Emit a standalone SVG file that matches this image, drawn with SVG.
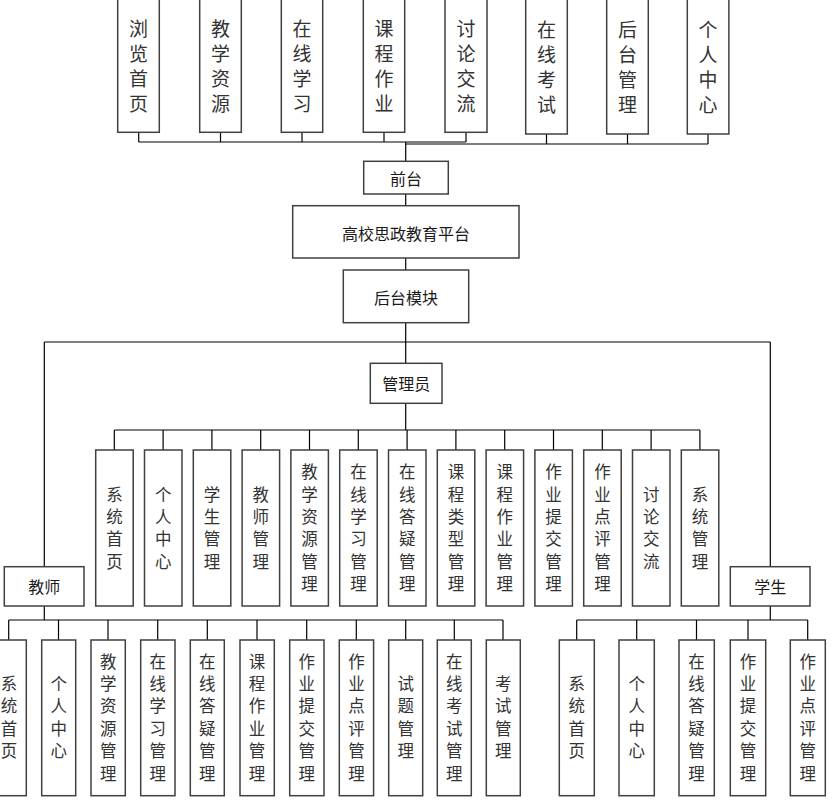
<svg xmlns="http://www.w3.org/2000/svg" width="832" height="804" viewBox="0 0 832 804">
<style>
.b{fill:#fff;stroke:#404040;stroke-width:1.5}
.t{font-family:"Noto Sans CJK SC","Noto Sans",sans-serif;fill:#1a1a1a;text-anchor:middle;dominant-baseline:central}
.v1{font-size:19px;fill:#333}
.v2{font-size:16.5px;fill:#333}
.h{font-size:16px}
.c line,.c polyline{stroke:#000;stroke-width:1.2;fill:none}
</style>
<rect width="832" height="804" fill="#fff"/>
<g class="c" id="connectors">
<line x1="138.7" y1="142" x2="466" y2="142"/>
<line x1="405.7" y1="144" x2="708" y2="144" stroke-width="1.6"/>
<line x1="138.7" y1="132" x2="138.7" y2="142"/>
<line x1="220.5" y1="132" x2="220.5" y2="142"/>
<line x1="302" y1="132" x2="302" y2="142"/>
<line x1="384" y1="132" x2="384" y2="142"/>
<line x1="466" y1="132" x2="466" y2="142"/>
<line x1="546.5" y1="134" x2="546.5" y2="144"/>
<line x1="627.5" y1="134" x2="627.5" y2="144"/>
<line x1="708" y1="134" x2="708" y2="144"/>
<line x1="405.7" y1="142" x2="405.7" y2="162" stroke-width="2"/>
<line x1="405.7" y1="194" x2="405.7" y2="207"/>
<line x1="405.7" y1="258" x2="405.7" y2="270"/>
<line x1="405.7" y1="322.7" x2="405.7" y2="363.3" stroke-width="1.6"/>
<line x1="44.3" y1="342" x2="770.3" y2="342"/>
<line x1="44.3" y1="342" x2="44.3" y2="567"/>
<line x1="770.3" y1="342" x2="770.3" y2="567"/>
<line x1="405.7" y1="403.3" x2="405.7" y2="430"/>
<line x1="114.3" y1="430" x2="700" y2="430"/>
<line x1="114.3" y1="430" x2="114.3" y2="450"/>
<line x1="163.1" y1="430" x2="163.1" y2="450"/>
<line x1="211.9" y1="430" x2="211.9" y2="450"/>
<line x1="260.7" y1="430" x2="260.7" y2="450"/>
<line x1="309.5" y1="430" x2="309.5" y2="450"/>
<line x1="358.3" y1="430" x2="358.3" y2="450"/>
<line x1="407.1" y1="430" x2="407.1" y2="450"/>
<line x1="455.9" y1="430" x2="455.9" y2="450"/>
<line x1="504.7" y1="430" x2="504.7" y2="450"/>
<line x1="553.5" y1="430" x2="553.5" y2="450"/>
<line x1="602.3" y1="430" x2="602.3" y2="450"/>
<line x1="651.1" y1="430" x2="651.1" y2="450"/>
<line x1="699.9" y1="430" x2="699.9" y2="450"/>
<line x1="44.3" y1="606" x2="44.3" y2="620"/>
<line x1="8.7" y1="620" x2="503" y2="620"/>
<line x1="8.7" y1="620" x2="8.7" y2="640"/>
<line x1="58.5" y1="620" x2="58.5" y2="640"/>
<line x1="108" y1="620" x2="108" y2="640"/>
<line x1="157.7" y1="620" x2="157.7" y2="640"/>
<line x1="207.3" y1="620" x2="207.3" y2="640"/>
<line x1="257" y1="620" x2="257" y2="640"/>
<line x1="306.7" y1="620" x2="306.7" y2="640"/>
<line x1="356.3" y1="620" x2="356.3" y2="640"/>
<line x1="405.7" y1="620" x2="405.7" y2="640"/>
<line x1="454.3" y1="620" x2="454.3" y2="640"/>
<line x1="503" y1="620" x2="503" y2="640"/>
<line x1="770.3" y1="606" x2="770.3" y2="620"/>
<line x1="576.7" y1="620" x2="807.7" y2="620"/>
<line x1="576.7" y1="620" x2="576.7" y2="640"/>
<line x1="636.7" y1="620" x2="636.7" y2="640"/>
<line x1="696.5" y1="620" x2="696.5" y2="640"/>
<line x1="748" y1="620" x2="748" y2="640"/>
<line x1="807.7" y1="620" x2="807.7" y2="640"/>
</g>

<!-- top row -->
<g id="f1"><rect class="b" x="117.7" y="-2" width="41.6" height="134.3"/><text class="t v1"><tspan x="138.5" y="27">浏</tspan><tspan x="138.5" y="52">览</tspan><tspan x="138.5" y="77">首</tspan><tspan x="138.5" y="102">页</tspan></text></g>
<g id="f2"><rect class="b" x="199.7" y="-2" width="41.6" height="134.3"/><text class="t v1"><tspan x="220.5" y="27">教</tspan><tspan x="220.5" y="52">学</tspan><tspan x="220.5" y="77">资</tspan><tspan x="220.5" y="102">源</tspan></text></g>
<g id="f3"><rect class="b" x="281.3" y="-2" width="41.4" height="134.3"/><text class="t v1"><tspan x="302" y="27">在</tspan><tspan x="302" y="52">线</tspan><tspan x="302" y="77">学</tspan><tspan x="302" y="102">习</tspan></text></g>
<g id="f4"><rect class="b" x="363.3" y="-2" width="41.4" height="134.3"/><text class="t v1"><tspan x="384" y="27">课</tspan><tspan x="384" y="52">程</tspan><tspan x="384" y="77">作</tspan><tspan x="384" y="102">业</tspan></text></g>
<g id="f5"><rect class="b" x="445" y="-2" width="42" height="134.3"/><text class="t v1"><tspan x="466" y="27">讨</tspan><tspan x="466" y="52">论</tspan><tspan x="466" y="77">交</tspan><tspan x="466" y="102">流</tspan></text></g>
<g id="f6"><rect class="b" x="525.7" y="-2" width="41.6" height="136"/><text class="t v1"><tspan x="546.5" y="28">在</tspan><tspan x="546.5" y="53">线</tspan><tspan x="546.5" y="78">考</tspan><tspan x="546.5" y="103">试</tspan></text></g>
<g id="f7"><rect class="b" x="606.7" y="-2" width="41.6" height="136"/><text class="t v1"><tspan x="627.5" y="28">后</tspan><tspan x="627.5" y="53">台</tspan><tspan x="627.5" y="78">管</tspan><tspan x="627.5" y="103">理</tspan></text></g>
<g id="f8"><rect class="b" x="687.3" y="-2" width="41.6" height="136"/><text class="t v1"><tspan x="708.1" y="28">个</tspan><tspan x="708.1" y="53">人</tspan><tspan x="708.1" y="78">中</tspan><tspan x="708.1" y="103">心</tspan></text></g>

<!-- center chain -->
<g id="qiantai"><rect class="b" x="363.7" y="161.3" width="84.6" height="32.7"/><text class="t h" x="406" y="177.7">前台</text></g>
<g id="platform"><rect class="b" x="292.7" y="205.7" width="226.3" height="52.3"/><text class="t h" x="406" y="233">高校思政教育平台</text></g>
<g id="houtai"><rect class="b" x="343.3" y="270" width="125.4" height="52.7"/><text class="t h" x="406" y="297">后台模块</text></g>
<g id="admin"><rect class="b" x="370.3" y="363.3" width="71.7" height="40"/><text class="t h" x="406.2" y="383.3">管理员</text></g>
<g id="teacher"><rect class="b" x="4.3" y="566.7" width="79.7" height="39.3"/><text class="t h" x="44.2" y="586.3">教师</text></g>
<g id="student"><rect class="b" x="730.3" y="566.7" width="79.7" height="39.3"/><text class="t h" x="770.2" y="586.3">学生</text></g>

<!-- admin row -->
<g id="a1"><rect class="b" x="95.7" y="450" width="37.5" height="156"/><text class="t v2"><tspan x="114.4" y="493.5">系</tspan><tspan x="114.4" y="515.8">统</tspan><tspan x="114.4" y="538.2">首</tspan><tspan x="114.4" y="560.5">页</tspan></text></g>
<g id="a2"><rect class="b" x="144.5" y="450" width="37.5" height="156"/><text class="t v2"><tspan x="163.2" y="493.5">个</tspan><tspan x="163.2" y="515.8">人</tspan><tspan x="163.2" y="538.2">中</tspan><tspan x="163.2" y="560.5">心</tspan></text></g>
<g id="a3"><rect class="b" x="193.3" y="450" width="37.5" height="156"/><text class="t v2"><tspan x="212" y="493.5">学</tspan><tspan x="212" y="515.8">生</tspan><tspan x="212" y="538.2">管</tspan><tspan x="212" y="560.5">理</tspan></text></g>
<g id="a4"><rect class="b" x="242.1" y="450" width="37.5" height="156"/><text class="t v2"><tspan x="260.8" y="493.5">教</tspan><tspan x="260.8" y="515.8">师</tspan><tspan x="260.8" y="538.2">管</tspan><tspan x="260.8" y="560.5">理</tspan></text></g>
<g id="a5"><rect class="b" x="290.9" y="450" width="37.5" height="156"/><text class="t v2"><tspan x="309.6" y="471.3">教</tspan><tspan x="309.6" y="493.5">学</tspan><tspan x="309.6" y="515.8">资</tspan><tspan x="309.6" y="538.2">源</tspan><tspan x="309.6" y="560.5">管</tspan><tspan x="309.6" y="582.8">理</tspan></text></g>
<g id="a6"><rect class="b" x="339.7" y="450" width="37.5" height="156"/><text class="t v2"><tspan x="358.4" y="471.3">在</tspan><tspan x="358.4" y="493.5">线</tspan><tspan x="358.4" y="515.8">学</tspan><tspan x="358.4" y="538.2">习</tspan><tspan x="358.4" y="560.5">管</tspan><tspan x="358.4" y="582.8">理</tspan></text></g>
<g id="a7"><rect class="b" x="388.5" y="450" width="37.5" height="156"/><text class="t v2"><tspan x="407.2" y="471.3">在</tspan><tspan x="407.2" y="493.5">线</tspan><tspan x="407.2" y="515.8">答</tspan><tspan x="407.2" y="538.2">疑</tspan><tspan x="407.2" y="560.5">管</tspan><tspan x="407.2" y="582.8">理</tspan></text></g>
<g id="a8"><rect class="b" x="437.3" y="450" width="37.5" height="156"/><text class="t v2"><tspan x="456" y="471.3">课</tspan><tspan x="456" y="493.5">程</tspan><tspan x="456" y="515.8">类</tspan><tspan x="456" y="538.2">型</tspan><tspan x="456" y="560.5">管</tspan><tspan x="456" y="582.8">理</tspan></text></g>
<g id="a9"><rect class="b" x="486.1" y="450" width="37.5" height="156"/><text class="t v2"><tspan x="504.8" y="471.3">课</tspan><tspan x="504.8" y="493.5">程</tspan><tspan x="504.8" y="515.8">作</tspan><tspan x="504.8" y="538.2">业</tspan><tspan x="504.8" y="560.5">管</tspan><tspan x="504.8" y="582.8">理</tspan></text></g>
<g id="a10"><rect class="b" x="534.9" y="450" width="37.5" height="156"/><text class="t v2"><tspan x="553.6" y="471.3">作</tspan><tspan x="553.6" y="493.5">业</tspan><tspan x="553.6" y="515.8">提</tspan><tspan x="553.6" y="538.2">交</tspan><tspan x="553.6" y="560.5">管</tspan><tspan x="553.6" y="582.8">理</tspan></text></g>
<g id="a11"><rect class="b" x="583.7" y="450" width="37.5" height="156"/><text class="t v2"><tspan x="602.4" y="471.3">作</tspan><tspan x="602.4" y="493.5">业</tspan><tspan x="602.4" y="515.8">点</tspan><tspan x="602.4" y="538.2">评</tspan><tspan x="602.4" y="560.5">管</tspan><tspan x="602.4" y="582.8">理</tspan></text></g>
<g id="a12"><rect class="b" x="632.5" y="450" width="37.5" height="156"/><text class="t v2"><tspan x="651.2" y="493.5">讨</tspan><tspan x="651.2" y="515.8">论</tspan><tspan x="651.2" y="538.2">交</tspan><tspan x="651.2" y="560.5">流</tspan></text></g>
<g id="a13"><rect class="b" x="681.3" y="450" width="37.5" height="156"/><text class="t v2"><tspan x="700" y="493.5">系</tspan><tspan x="700" y="515.8">统</tspan><tspan x="700" y="538.2">管</tspan><tspan x="700" y="560.5">理</tspan></text></g>

<!-- teacher row -->
<g id="t1"><rect class="b" x="-8" y="640" width="34.3" height="155.7"/><text class="t v2"><tspan x="9" y="683">系</tspan><tspan x="9" y="705.3">统</tspan><tspan x="9" y="727.7">首</tspan><tspan x="9" y="750">页</tspan></text></g>
<g id="t2"><rect class="b" x="41.7" y="640" width="34" height="155.7"/><text class="t v2"><tspan x="58.7" y="683">个</tspan><tspan x="58.7" y="705.3">人</tspan><tspan x="58.7" y="727.7">中</tspan><tspan x="58.7" y="750">心</tspan></text></g>
<g id="t3"><rect class="b" x="91" y="640" width="34.3" height="155.7"/><text class="t v2"><tspan x="108.2" y="660.5">教</tspan><tspan x="108.2" y="683">学</tspan><tspan x="108.2" y="705.3">资</tspan><tspan x="108.2" y="727.7">源</tspan><tspan x="108.2" y="750">管</tspan><tspan x="108.2" y="772.5">理</tspan></text></g>
<g id="t4"><rect class="b" x="140.7" y="640" width="34.3" height="155.7"/><text class="t v2"><tspan x="157.8" y="660.5">在</tspan><tspan x="157.8" y="683">线</tspan><tspan x="157.8" y="705.3">学</tspan><tspan x="157.8" y="727.7">习</tspan><tspan x="157.8" y="750">管</tspan><tspan x="157.8" y="772.5">理</tspan></text></g>
<g id="t5"><rect class="b" x="190.3" y="640" width="34" height="155.7"/><text class="t v2"><tspan x="207.3" y="660.5">在</tspan><tspan x="207.3" y="683">线</tspan><tspan x="207.3" y="705.3">答</tspan><tspan x="207.3" y="727.7">疑</tspan><tspan x="207.3" y="750">管</tspan><tspan x="207.3" y="772.5">理</tspan></text></g>
<g id="t6"><rect class="b" x="240" y="640" width="34.3" height="155.7"/><text class="t v2"><tspan x="257.1" y="660.5">课</tspan><tspan x="257.1" y="683">程</tspan><tspan x="257.1" y="705.3">作</tspan><tspan x="257.1" y="727.7">业</tspan><tspan x="257.1" y="750">管</tspan><tspan x="257.1" y="772.5">理</tspan></text></g>
<g id="t7"><rect class="b" x="289.7" y="640" width="34.3" height="155.7"/><text class="t v2"><tspan x="306.8" y="660.5">作</tspan><tspan x="306.8" y="683">业</tspan><tspan x="306.8" y="705.3">提</tspan><tspan x="306.8" y="727.7">交</tspan><tspan x="306.8" y="750">管</tspan><tspan x="306.8" y="772.5">理</tspan></text></g>
<g id="t8"><rect class="b" x="339.3" y="640" width="34.3" height="155.7"/><text class="t v2"><tspan x="356.4" y="660.5">作</tspan><tspan x="356.4" y="683">业</tspan><tspan x="356.4" y="705.3">点</tspan><tspan x="356.4" y="727.7">评</tspan><tspan x="356.4" y="750">管</tspan><tspan x="356.4" y="772.5">理</tspan></text></g>
<g id="t9"><rect class="b" x="388.7" y="640" width="34" height="155.7"/><text class="t v2"><tspan x="405.7" y="683">试</tspan><tspan x="405.7" y="705.3">题</tspan><tspan x="405.7" y="727.7">管</tspan><tspan x="405.7" y="750">理</tspan></text></g>
<g id="t10"><rect class="b" x="437.3" y="640" width="34" height="155.7"/><text class="t v2"><tspan x="454.3" y="660.5">在</tspan><tspan x="454.3" y="683">线</tspan><tspan x="454.3" y="705.3">考</tspan><tspan x="454.3" y="727.7">试</tspan><tspan x="454.3" y="750">管</tspan><tspan x="454.3" y="772.5">理</tspan></text></g>
<g id="t11"><rect class="b" x="486.3" y="640" width="34" height="155.7"/><text class="t v2"><tspan x="503.3" y="683">考</tspan><tspan x="503.3" y="705.3">试</tspan><tspan x="503.3" y="727.7">管</tspan><tspan x="503.3" y="750">理</tspan></text></g>

<!-- student row -->
<g id="s1"><rect class="b" x="559.3" y="640" width="35" height="155.7"/><text class="t v2"><tspan x="576.8" y="683">系</tspan><tspan x="576.8" y="705.3">统</tspan><tspan x="576.8" y="727.7">首</tspan><tspan x="576.8" y="750">页</tspan></text></g>
<g id="s2"><rect class="b" x="619" y="640" width="35.3" height="155.7"/><text class="t v2"><tspan x="636.7" y="683">个</tspan><tspan x="636.7" y="705.3">人</tspan><tspan x="636.7" y="727.7">中</tspan><tspan x="636.7" y="750">心</tspan></text></g>
<g id="s3"><rect class="b" x="679" y="640" width="35.3" height="155.7"/><text class="t v2"><tspan x="696.6" y="660.5">在</tspan><tspan x="696.6" y="683">线</tspan><tspan x="696.6" y="705.3">答</tspan><tspan x="696.6" y="727.7">疑</tspan><tspan x="696.6" y="750">管</tspan><tspan x="696.6" y="772.5">理</tspan></text></g>
<g id="s4"><rect class="b" x="730.3" y="640" width="35.4" height="155.7"/><text class="t v2"><tspan x="748" y="660.5">作</tspan><tspan x="748" y="683">业</tspan><tspan x="748" y="705.3">提</tspan><tspan x="748" y="727.7">交</tspan><tspan x="748" y="750">管</tspan><tspan x="748" y="772.5">理</tspan></text></g>
<g id="s5"><rect class="b" x="790.3" y="640" width="35" height="155.7"/><text class="t v2"><tspan x="807.8" y="660.5">作</tspan><tspan x="807.8" y="683">业</tspan><tspan x="807.8" y="705.3">点</tspan><tspan x="807.8" y="727.7">评</tspan><tspan x="807.8" y="750">管</tspan><tspan x="807.8" y="772.5">理</tspan></text></g>
</svg>
